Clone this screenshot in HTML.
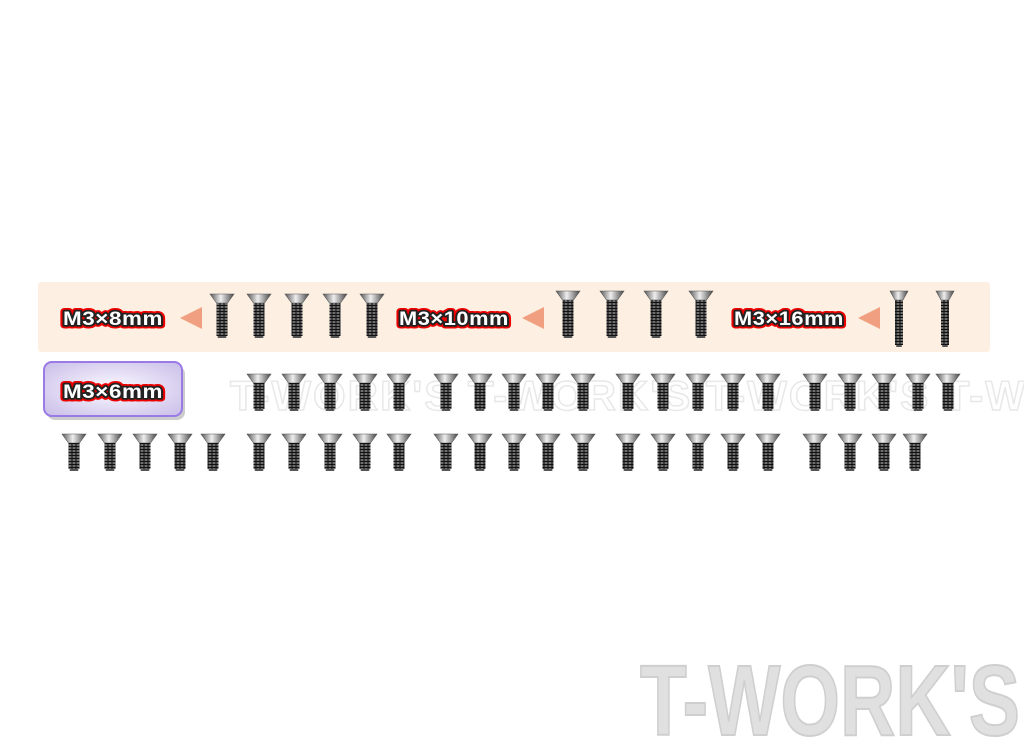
<!DOCTYPE html>
<html><head><meta charset="utf-8"><style>
html,body{margin:0;padding:0;background:#fff;}
body{width:1024px;height:754px;overflow:hidden;position:relative;font-family:"Liberation Sans",sans-serif;}
svg{position:absolute;left:0;top:0;}
.l{font-family:"Liberation Sans",sans-serif;font-weight:900;font-size:19px;letter-spacing:0.5px}
.r{fill:#e00;stroke:#e00;stroke-width:7px;stroke-linejoin:round}
.k{fill:#222;stroke:#222;stroke-width:3.5px;stroke-linejoin:round}
.w{fill:#fff}
</style></head><body>
<svg id="s" width="1024" height="754" viewBox="0 0 1024 754">
<defs>
<linearGradient id="hg" x1="0" x2="1"><stop offset="0" stop-color="#555"/><stop offset="0.45" stop-color="#eee"/><stop offset="1" stop-color="#444"/></linearGradient>
<linearGradient id="bg" x1="0" x2="1"><stop offset="0" stop-color="#222"/><stop offset="0.5" stop-color="#888"/><stop offset="1" stop-color="#222"/></linearGradient>
<radialGradient id="pg" cx="0.5" cy="0.5" r="0.7"><stop offset="0" stop-color="#fbfaff"/><stop offset="1" stop-color="#c9bde8"/></radialGradient>
<pattern id="th" width="4" height="3" patternUnits="userSpaceOnUse"><rect width="4" height="3" fill="url(#bg)"/><rect y="2" width="4" height="1" fill="#111"/></pattern>
</defs>
<rect x="38" y="282" width="952" height="70" rx="3" fill="#fdf0e2"/>
<rect x="47" y="366" width="138" height="54" rx="8" fill="#ccc"/>
<rect x="44" y="362" width="138" height="54" rx="8" fill="url(#pg)" stroke="#9a7ae6" stroke-width="2"/>
<text x="230" y="410" font-family="Liberation Sans" font-size="42" font-weight="900" fill="none" stroke="#e8e8e8" stroke-width="1.5" letter-spacing="2">T-WORK'S T-WORK'S T-WORK'S T-WORK'S T-WORK'S</text>
<text x="640" y="735" font-family="Liberation Sans" font-size="100" font-weight="900" fill="#e0e0e0" stroke="#cfcfcf" stroke-width="2" textLength="380" lengthAdjust="spacingAndGlyphs">T-WORK'S</text>
<g id="lb"></g>
<polygon points="180,318 202,307 202,329" fill="#f0a080"/>
<polygon points="522,318 544,307 544,329" fill="#f0a080"/>
<polygon points="858,318 880,307 880,329" fill="#f0a080"/>
<g id="sc"></g>
</svg>
<script>
var L=[[113,325,'M3×8mm',100],[454,325,'M3×10mm',110],[789,325,'M3×16mm',110],[113,398,'M3×6mm',100]],t='';
L.forEach(function(a){['r','k','w'].forEach(function(c){t+='<text x="'+a[0]+'" y="'+a[1]+'" text-anchor="middle" textLength="'+a[3]+'" lengthAdjust="spacingAndGlyphs" class="l '+c+'">'+a[2]+'</text>';});});
document.getElementById('lb').innerHTML=t;
var g=document.getElementById('sc'),h='';
function screw(cx,top,len,hw){
 var bw=Math.round(hw*0.46);
 h+='<polygon points="'+(cx-hw/2)+','+top+' '+(cx+hw/2)+','+top+' '+(cx+bw/2)+','+(top+9)+' '+(cx-bw/2)+','+(top+9)+'" fill="url(#hg)" stroke="#555" stroke-width="0.6"/>';
 h+='<rect x="'+(cx-bw/2)+'" y="'+(top+9)+'" width="'+bw+'" height="'+(len-11)+'" fill="url(#th)"/>';
 h+='<rect x="'+(cx-bw/2+1)+'" y="'+(top+len-2)+'" width="'+(bw-2)+'" height="2" rx="1" fill="#555"/>';
}
[222,259,297,335,372].forEach(function(x){screw(x,294,44,24)});
[568,612,656,701].forEach(function(x){screw(x,291,47,24)});
[899,945].forEach(function(x){screw(x,291,56,18)});
[259,294,330,365,399,446,480,514,548,583,628,663,698,733,768,815,850,884,918,948].forEach(function(x){screw(x,374,37,24)});
[74,110,145,180,213,259,294,330,365,399,446,480,514,548,583,628,663,698,733,768,815,850,884,915].forEach(function(x){screw(x,434,37,24)});
g.innerHTML=h;
</script>
</body></html>
